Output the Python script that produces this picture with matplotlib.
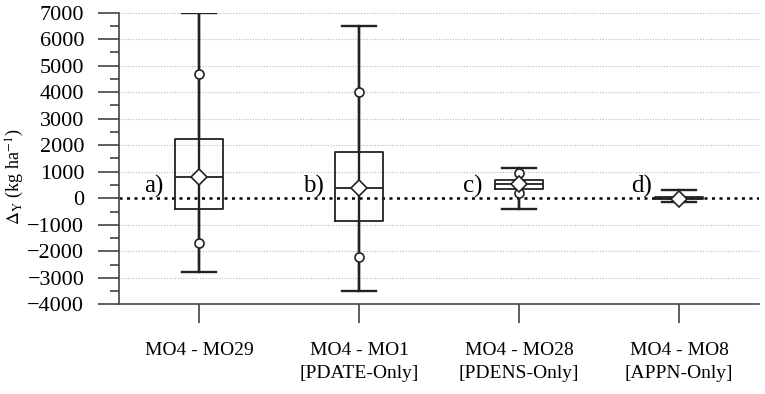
import matplotlib.pyplot as plt
from matplotlib.ticker import MultipleLocator

plt.rcParams['font.family'] = ['Liberation Serif', 'DejaVu Serif']
plt.rcParams['mathtext.fontset'] = 'stix'

# differences in yield between model pairs (kg/ha)
groups = ['MO4 - MO29', 'MO4 - MO1\n[PDATE-Only]', 'MO4 - MO28\n[PDENS-Only]', 'MO4 - MO8\n[APPN-Only]']
panel_tags = ['a)', 'b)', 'c)', 'd)']
whisker_lo = [-2800, -3500, -400, -150]
q1 = [-400, -850, 350, -30]
median = [800, 400, 550, 0]
q3 = [2250, 1750, 700, 50]
whisker_hi = [7000, 6500, 1150, 300]
mean = [800, 400, 550, -20]
pct_lo = [-1700, -2200, 200, -10]   # open circles, lower
pct_hi = [4700, 4000, 950, 10]      # open circles, upper

fig = plt.figure(figsize=(7.65, 3.94), dpi=100)
ax = fig.add_axes([0.1556, 0.2277, 0.8366, 0.7401])

pos = list(range(len(groups)))

ax.set_ylim(-4000, 7000)
ax.set_xlim(-0.5, 3.5)
for yv in range(-3000, 7001, 1000):
    if yv == 0:
        continue
    ax.axhline(yv, color='#b8b8b8', lw=0.8, ls=(0, (1, 1.5)), zorder=0)
ax.axhline(0, color='black', lw=1.8, ls=(0, (1.2, 1.8)), zorder=1)

# whisker line runs through the whole box
ax.vlines(pos, whisker_lo, whisker_hi, color='#222222', lw=1.7, zorder=2)

stats = []
for i in pos:
    stats.append(dict(med=median[i], q1=q1[i], q3=q3[i],
                      whislo=whisker_lo[i], whishi=whisker_hi[i], fliers=[]))
ax.bxp(stats, positions=pos, widths=0.3, capwidths=0.21, showfliers=False,
       patch_artist=False, manage_ticks=False,
       boxprops=dict(color='#222222', lw=1.3),
       medianprops=dict(color='#222222', lw=1.3),
       whiskerprops=dict(color='#222222', lw=1.7),
       capprops=dict(color='#222222', lw=1.7))

ax.plot(pos, pct_lo, 'o', ms=6.5, mfc='white', mec='#222222', mew=1.2, zorder=4)
ax.plot(pos, pct_hi, 'o', ms=6.5, mfc='white', mec='#222222', mew=1.2, zorder=4)
ax.plot(pos, mean, 'D', ms=8.5, mfc='white', mec='#222222', mew=1.2, zorder=5)

tag_dx = [-0.225, -0.22, -0.23, -0.17]
for i in pos:
    ax.text(pos[i] + tag_dx[i], 200, panel_tags[i], ha='right', va='baseline', fontsize=18)

ax.set_xticks(pos)
ax.set_xticklabels(groups, fontsize=14, linespacing=1.45)
ax.set_yticks(range(-4000, 7001, 1000))
ax.set_yticklabels([str(v).replace('-', '\u2212') for v in range(-4000, 7001, 1000)], fontsize=16)
ax.yaxis.set_minor_locator(MultipleLocator(500))
ax.tick_params(axis='y', which='major', length=15, width=1.2, pad=10, color='#444444')
ax.tick_params(axis='y', which='minor', length=6.5, width=1.2, color='#444444')
ax.tick_params(axis='x', which='major', length=14, width=1.2, pad=13, color='#444444')

ax.set_ylabel(r'$\Delta_{\mathrm{Y}}$ (kg ha$^{\mathrm{-1}}$)', fontsize=13)
ax.yaxis.set_label_coords(-0.145, 0.437)

for s in ['top', 'right']:
    ax.spines[s].set_visible(False)
for s in ['left', 'bottom']:
    ax.spines[s].set_color('#444444')
    ax.spines[s].set_linewidth(1.2)

fig.savefig('out.png', dpi=100)
